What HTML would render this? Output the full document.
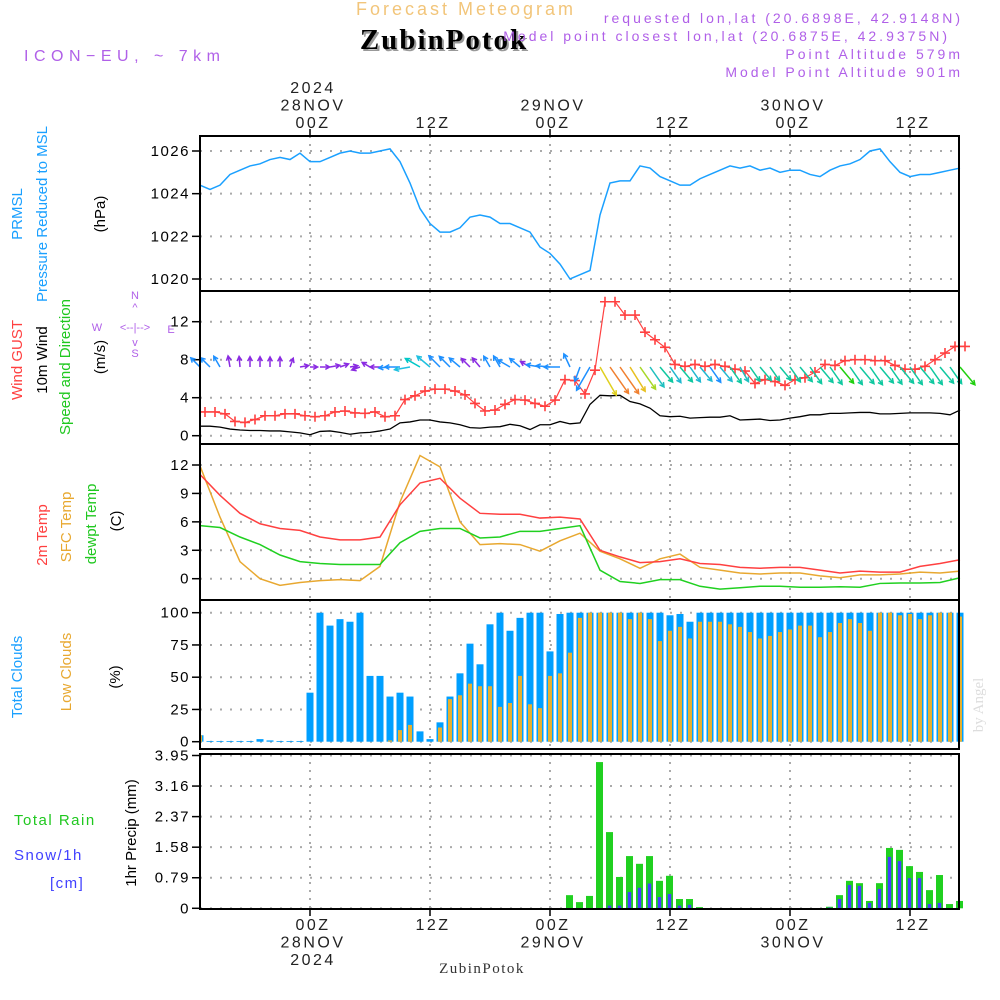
<!DOCTYPE html>
<html><head><meta charset="utf-8"><style>
html,body{margin:0;padding:0;background:#fff;}
svg{display:block;font-family:"Liberation Sans",sans-serif;}
</style></head><body>
<svg id="chart" xmlns="http://www.w3.org/2000/svg" width="1000" height="1000" viewBox="0 0 1000 1000">
<g id="static">
<text x="466" y="15" font-size="18" fill="#f2c57a" text-anchor="middle" letter-spacing="3">Forecast Meteogram</text>
<text x="446" y="51" font-size="29" font-weight="bold" font-family="Liberation Serif, serif" fill="#999" text-anchor="middle" letter-spacing="2">ZubinPotok</text>
<text x="444" y="49" font-size="29" font-weight="bold" font-family="Liberation Serif, serif" fill="#000" text-anchor="middle" letter-spacing="2">ZubinPotok</text>
<text x="24" y="61" font-size="16" fill="#b060e8" letter-spacing="5.5">ICON−EU, ~ 7km</text>
<g fill="#b060e8" font-size="14" text-anchor="end" letter-spacing="3">
<text x="963" y="23">requested lon,lat (20.6898E, 42.9148N)</text>
<text x="950" y="41">Model point closest lon,lat (20.6875E, 42.9375N)</text>
<text x="963" y="59">Point Altitude 579m</text>
<text x="963" y="77">Model Point Altitude 901m</text>
</g>
<text transform="translate(983,705) rotate(-90)" font-size="15" font-family="Liberation Serif, serif" fill="#ddd" text-anchor="middle">by Angel</text>
<text x="482" y="973" font-size="15" font-family="Liberation Serif, serif" fill="#333" text-anchor="middle" letter-spacing="1.5">ZubinPotok</text>
<g font-size="15" text-anchor="middle">
<text transform="translate(22,214) rotate(-90)" fill="#1aa0ff">PRMSL</text>
<text transform="translate(47,214) rotate(-90)" fill="#1aa0ff">Pressure Reduced to MSL</text>
<text transform="translate(105,214) rotate(-90)" fill="#000">(hPa)</text>
<text transform="translate(22,360) rotate(-90)" fill="#ff4040">Wind GUST</text>
<text transform="translate(47,360) rotate(-90)" fill="#000">10m Wind</text>
<text transform="translate(70,367) rotate(-90)" fill="#20c820">Speed and Direction</text>
<text transform="translate(105,357) rotate(-90)" fill="#000">(m/s)</text>
<text transform="translate(47,535) rotate(-90)" fill="#ff4040">2m Temp</text>
<text transform="translate(71,527) rotate(-90)" fill="#e8a830">SFC Temp</text>
<text transform="translate(96,524) rotate(-90)" fill="#20c820">dewpt Temp</text>
<text transform="translate(121,521) rotate(-90)" fill="#000">(C)</text>
<text transform="translate(22,677) rotate(-90)" fill="#1aa0ff">Total Clouds</text>
<text transform="translate(71,672) rotate(-90)" fill="#e8a830">Low Clouds</text>
<text transform="translate(120,677) rotate(-90)" fill="#000">(%)</text>
<text transform="translate(136,833) rotate(-90)" fill="#000">1hr Precip (mm)</text>
</g>
<g font-size="15" letter-spacing="1.5">
<text x="14" y="825" fill="#20c820">Total  Rain</text>
<text x="14" y="860" fill="#4040ff">Snow/1h</text>
<text x="50" y="888" fill="#4040ff">[cm]</text>
</g>
<g fill="#b060e8" font-size="11" text-anchor="middle">
<text x="135" y="299">N</text><text x="135" y="311">^</text>
<text x="97" y="331">W</text><text x="135" y="331">&lt;--|--&gt;</text><text x="171" y="333">E</text>
<text x="135" y="346">v</text><text x="135" y="357">S</text>
</g>
</g>
<g id="dyn"></g>
</svg>
<script>
// ---- data (hourly, first entry = 13Z 27NOV, i.e. hour -11 relative to 00Z 28NOV) ----
const startHour = -11;
const pressure = [1024.4,1024.2,1024.4,1024.9,1025.1,1025.3,1025.4,1025.6,1025.7,1025.6,1025.9,1025.5,1025.5,1025.7,1025.9,1026.0,1025.9,1025.9,1026.0,1026.1,1025.5,1024.5,1023.3,1022.6,1022.2,1022.2,1022.4,1022.9,1023.0,1022.9,1022.6,1022.6,1022.4,1022.2,1021.5,1021.2,1020.7,1020.0,1020.2,1020.4,1023.0,1024.5,1024.6,1024.6,1025.3,1025.2,1024.8,1024.6,1024.4,1024.4,1024.7,1024.9,1025.1,1025.3,1025.2,1025.3,1025.1,1025.2,1025.0,1025.1,1025.1,1024.9,1024.8,1025.1,1025.3,1025.4,1025.6,1026.0,1026.1,1025.5,1025.0,1024.8,1024.9,1024.9,1025.0,1025.1,1025.2];
const windSpeed = [1.0,1.0,0.9,0.7,0.6,0.55,0.55,0.5,0.5,0.4,0.3,0.1,0.45,0.5,0.35,0.15,0.3,0.35,0.5,0.7,1.35,1.45,1.65,1.65,1.45,1.35,1.15,0.85,0.8,0.9,0.95,1.2,1.05,0.65,1.15,1.15,1.5,1.25,1.35,3.3,4.25,4.2,4.25,3.6,3.35,2.9,2.1,2.0,2.05,1.85,1.9,1.95,1.95,2.1,1.65,1.7,1.75,1.6,1.65,1.85,2.0,2.2,2.2,2.35,2.35,2.4,2.45,2.45,2.3,2.3,2.35,2.4,2.4,2.4,2.35,2.2,2.7];
// gusts are plotted at half hours, starting at hour -10.5
const gustStart = -10.5;
const windGust = [2.5,2.5,2.3,1.5,1.4,1.7,2.1,2.1,2.3,2.3,2.1,2.0,2.1,2.5,2.6,2.4,2.35,2.5,2.0,2.1,3.8,4.2,4.7,4.9,4.9,4.7,4.3,3.4,2.6,2.7,3.3,3.8,3.75,3.4,3.1,3.75,5.9,5.8,4.4,6.9,14.1,14.1,12.7,12.7,10.9,10.1,9.3,7.5,7.3,7.5,7.3,7.5,7.3,7.0,6.8,5.5,5.9,5.7,5.3,5.9,6.1,6.7,7.5,7.4,7.9,8.0,8.0,7.9,7.9,7.4,7.0,7.0,7.3,8.0,8.7,9.4,9.4];
// direction wind blows TO (deg, 0 = up/north, 90 = right/east)
const windDir = [315,315,330,350,355,0,0,0,0,20,80,90,90,80,70,80,250,300,270,265,270,260,300,310,315,315,310,315,320,330,330,300,310,300,280,275,270,335,200,210,150,145,145,148,145,145,140,145,140,145,140,145,140,145,150,145,140,145,140,145,140,145,140,145,140,145,140,145,140,145,140,145,140,145,140,145,140];
const windColor = ["#1e90ff","#1e90ff","#1e90ff","#8a2be2","#8a2be2","#8a2be2","#8a2be2","#8a2be2","#8a2be2","#8a2be2","#8a2be2","#8a2be2","#8a2be2","#8a2be2","#8a2be2","#8a2be2","#8a2be2","#8a2be2","#8a2be2","#1e90ff","#1e90ff","#20c0e0","#00c8c8","#20c0e0","#1e90ff","#1e90ff","#1e90ff","#8a2be2","#8a2be2","#1e90ff","#1e90ff","#1e90ff","#1e90ff","#8a2be2","#1e90ff","#1e90ff","#1e90ff","#1e90ff","#1e90ff","#1e90ff","#e0d020","#f08030","#f08030","#e8c020","#a8d828","#20c0c0","#10c8a0","#20b8d0","#10c8a0","#20b8d0","#20b8d0","#1e90ff","#20b8d0","#10c8a0","#20c0c0","#10c8a0","#10c8a0","#10c8a0","#10c8a0","#10c8a0","#10c8a0","#10c8a0","#10c8a0","#10c8a0","#20d010","#10c8a0","#10c8a0","#10c8a0","#10c8a0","#10c8a0","#10c8a0","#10c8a0","#10c8a0","#10c8a0","#10c8a0","#10c8a0","#20d010"];
// temperatures every 2 hours from hour -11
const tempStep = 2;
const temp2m = [11.0,8.8,6.9,5.8,5.3,5.1,4.4,4.1,4.1,4.4,7.8,10.1,10.6,8.5,6.9,6.8,6.8,6.4,6.5,6.3,3.0,2.3,1.7,1.8,2.1,1.6,1.5,1.2,1.1,1.2,1.2,0.9,0.6,0.8,0.7,0.7,1.3,1.6,2.0];
const tempSfc = [11.9,6.5,1.8,0.0,-0.7,-0.4,-0.2,-0.1,-0.2,1.3,8.1,13.0,11.8,6.0,3.6,3.7,3.6,2.9,4.0,4.8,2.9,2.1,1.1,2.1,2.6,1.2,0.9,0.6,0.5,0.6,0.6,0.3,0.1,0.4,0.4,0.5,0.7,0.6,0.8];
const tempDew = [5.6,5.4,4.4,3.6,2.5,1.8,1.6,1.5,1.5,1.5,3.8,5.0,5.3,5.3,4.3,4.4,5.0,5.0,5.3,5.6,0.9,-0.3,-0.5,-0.1,-0.1,-0.8,-1.1,-0.95,-0.8,-0.8,-0.9,-0.9,-0.85,-0.9,-0.5,-0.45,-0.45,-0.4,0.1];
const cloudTotal = [5,0.5,0.5,0.5,0.5,0.5,2,1,0.5,0.5,0.5,38,100,90,95,93,100,51,51,35,38,35,8,2,15,35,53,76,60,91,100,86,96,100,100,70,99,100,100,100,100,100,100,100,100,100,100,98,99,93,100,100,100,100,100,100,100,100,100,100,100,100,100,100,100,100,100,100,100,100,100,100,100,100,100,100,100];
const cloudLow = [5,0,0,0,0,0,0,0,0,0,0,0,0,0,0,0,0,0,0,1,9,13,0,0,11,33,36,45,43,43,27,30,51,29,26,51,53,69,96,100,100,100,100,95,100,95,78,86,89,80,93,93,93,91,89,85,80,82,85,87,90,90,81,85,92,95,92,86,100,100,98,99,95,98,100,100,97];
const rain = [0,0,0,0,0,0,0,0,0,0,0,0,0,0,0,0,0,0,0,0,0,0,0,0,0,0,0,0,0,0,0,0,0,0,0,0,0,0.34,0.16,0.32,3.78,1.97,0.81,1.35,1.15,1.35,0.71,0.84,0.24,0.24,0.03,0,0,0,0,0,0,0,0,0,0,0,0,0.04,0.34,0.71,0.65,0.19,0.65,1.56,1.51,1.09,0.94,0.47,0.86,0.11,0.19];
const snow = [0,0,0,0,0,0,0,0,0,0,0,0,0,0,0,0,0,0,0,0,0,0,0,0,0,0,0,0,0,0,0,0,0,0,0,0,0,0,0,0,0,0.07,0.07,0.42,0.53,0.64,0.29,0.37,0.07,0.09,0,0,0,0,0,0,0,0,0,0,0,0,0,0.02,0.24,0.6,0.58,0.14,0.5,1.33,1.22,0.78,0.78,0.11,0.14,0,0];
const pressureTicks = [1020,1022,1024,1026];
const windTicks = [0,4,8,12];
const tempTicks = [0,3,6,9,12];
const cloudTicks = [0,25,50,75,100];
const precipTicks = [0,0.79,1.58,2.37,3.16,3.95];
const timeTickHours = [0,12,24,36,48,60];
const topLabels = [["2024","28NOV","00Z"],["","","12Z"],["","29NOV","00Z"],["","","12Z"],["","30NOV","00Z"],["","","12Z"]];
const bottomLabels = [["00Z","28NOV","2024"],["12Z","",""],["00Z","29NOV",""],["12Z","",""],["00Z","30NOV",""],["12Z","",""]];

// ---- layout & scales ----
const L = 200, R = 959;
const X = h => 310 + 10 * h;
const lin = (d0, d1, r0, r1) => v => r0 + (v - d0) * (r1 - r0) / (d1 - d0);
const panels = [
  {name:'pressure', top:136, bot:291, y: lin(1020,1026,279,151), ticks: pressureTicks},
  {name:'wind', top:291, bot:444, y: lin(0,12,435.7,321.7), ticks: windTicks},
  {name:'temp', top:444, bot:600, y: lin(0,12,578.7,465), ticks: tempTicks},
  {name:'clouds', top:600, bot:749, y: lin(0,100,741.7,612.7), ticks: cloudTicks},
  {name:'precip', top:754, bot:909, y: lin(0,3.95,908.3,755.5), ticks: precipTicks}
];
const NS = 'http://www.w3.org/2000/svg';
const dyn = document.getElementById('dyn');
function mk(tag, attrs, parent) {
  const e = document.createElementNS(NS, tag);
  for (const k in attrs) e.setAttribute(k, attrs[k]);
  (parent || dyn).appendChild(e);
  return e;
}
function fmt(v){ return Number.isInteger(v) ? String(v) : v.toFixed(2); }

panels.forEach(p => {
  const g = mk('g', {});
  
  
  p.g = g;
  p.ticks.forEach(t => {
    const y = p.y(t);
    const gl = mk('line', {x1:L, x2:R, y1:y, y2:y, stroke:'#aaa', 'stroke-width':2, 'stroke-dasharray':'2 8'}, g);
    
    
    const tk = mk('line', {x1:L-8, x2:L, y1:y, y2:y, stroke:'#000', 'stroke-width':1.5}, g);
    
    
    const tl = mk('text', {x:L-10, y:y+5, 'font-size':15, 'text-anchor':'end', fill:'#000', 'letter-spacing':1.5}, g);
    tl.textContent = fmt(t);
    
    
  });
  timeTickHours.forEach(h => {
    const vl = mk('line', {x1:X(h), x2:X(h), y1:p.top, y2:p.bot, stroke:'#aaa', 'stroke-width':2, 'stroke-dasharray':'2 6'}, g);
    
    
  });
});

{
  const p = panels[0];
  const pts = pressure.map((v,i) => X(startHour+i) + ',' + p.y(v)).join(' ');
  const pl = mk('polyline', {points:pts, fill:'none', stroke:'#1aa0ff', 'stroke-width':1.5}, p.g);
  
  
}
{
  const p = panels[1];
  const ws = mk('polyline', {points: windSpeed.map((v,i) => X(startHour+i)+','+p.y(v)).join(' '), fill:'none', stroke:'#000', 'stroke-width':1.3}, p.g);
  
  
  const gl = mk('polyline', {points: windGust.map((v,i) => X(gustStart+i)+','+p.y(v)).join(' '), fill:'none', stroke:'#ff4040', 'stroke-width':1.2}, p.g);
  
  
  windGust.forEach((v,i) => {
    const x = X(gustStart+i), y = p.y(v);
    const m = mk('path', {d:`M${x-5},${y}H${x+5}M${x},${y-5}V${y+5}`, stroke:'#ff4040', 'stroke-width':1.6}, p.g);
    
    
  });
  windDir.forEach((d,i) => {
    const s = windSpeed[i];
    const len = 7 + 6 * s;
    const a = d * Math.PI / 180;
    const x0 = X(startHour+i), y0 = 367;
    const x1 = x0 + len*Math.sin(a), y1 = y0 - len*Math.cos(a);
    const hl = 5, ha = 0.5;
    const bx = x1 - hl*Math.sin(a - ha), by = y1 + hl*Math.cos(a - ha);
    const cx = x1 - hl*Math.sin(a + ha), cy = y1 + hl*Math.cos(a + ha);
    const ar = mk('path', {d:`M${x0},${y0}L${x1},${y1}M${bx},${by}L${x1},${y1}L${cx},${cy}`, stroke:windColor[i], 'stroke-width':1.5, fill:'none'}, p.g);
    
    
  });
}
{
  const p = panels[2];
  [[tempSfc,'#e8a830','sfc-temp-line'],[tempDew,'#20d020','dewpoint-line'],[temp2m,'#ff4040','temp-2m-line']].forEach(([arr,c,n]) => {
    const l = mk('polyline', {points: arr.map((v,i) => X(startHour+i*tempStep)+','+p.y(v)).join(' '), fill:'none', stroke:c, 'stroke-width':1.5}, p.g);
    
    
  });
}
{
  const p = panels[3];
  cloudTotal.forEach((v,i) => {
    const x = X(startHour+i), y = p.y(v), y0 = p.y(0);
    const b = mk('rect', {x:Math.max(L,x-3.5), y:y, width: x-3.5<L ? x+3.5-L : 7, height: Math.max(0.8,y0-y), fill:'#009fff'}, p.g);
    
    
  });
  cloudLow.forEach((v,i) => {
    if (v <= 0) return;
    const x = X(startHour+i), y = p.y(v), y0 = p.y(0);
    const b = mk('rect', {x:Math.max(L,x-2), y:y, width: x-2<L ? x+2-L : 4, height: y0-y, fill:'#e6b030'}, p.g);
    
    
  });
}
{
  const p = panels[4];
  rain.forEach((v,i) => {
    if (v <= 0) return;
    const x = X(startHour+i) - 0.5, y = p.y(v), y0 = p.y(0);
    const b = mk('rect', {x:x-3.5, y:y, width:7, height:y0-y, fill:'#20d020'}, p.g);
    
    
  });
  snow.forEach((v,i) => {
    if (v <= 0) return;
    const x = X(startHour+i) - 0.5, y = p.y(v), y0 = p.y(0);
    const b = mk('rect', {x:x-1.7, y:y, width:3.4, height:y0-y, fill:'#4040ff'}, p.g);
    
    
  });
}
panels.forEach(p => {
  const r = mk('rect', {x:L, y:p.top, width:R-L, height:p.bot-p.top, fill:'none', stroke:'#000', 'stroke-width':2});
  
  
});
timeTickHours.forEach((h,k) => {
  const x = X(h) + 3;
  const t1 = mk('line', {x1:X(h), x2:X(h), y1:129, y2:136, stroke:'#000', 'stroke-width':1.5});
  
  
  const t2 = mk('line', {x1:X(h), x2:X(h), y1:909, y2:916, stroke:'#000', 'stroke-width':1.5});
  
  
  topLabels[k].forEach((s,j) => {
    if (!s) return;
    const t = mk('text', {x:x, y:93+j*17.5, 'font-size':16, 'text-anchor':'middle', fill:'#222', 'letter-spacing':2.5});
    t.textContent = s;
    
    
  });
  bottomLabels[k].forEach((s,j) => {
    if (!s) return;
    const t = mk('text', {x:x, y:930+j*17.5, 'font-size':16, 'text-anchor':'middle', fill:'#222', 'letter-spacing':2.5});
    t.textContent = s;
    
    
  });
});
</script>
</body></html>
